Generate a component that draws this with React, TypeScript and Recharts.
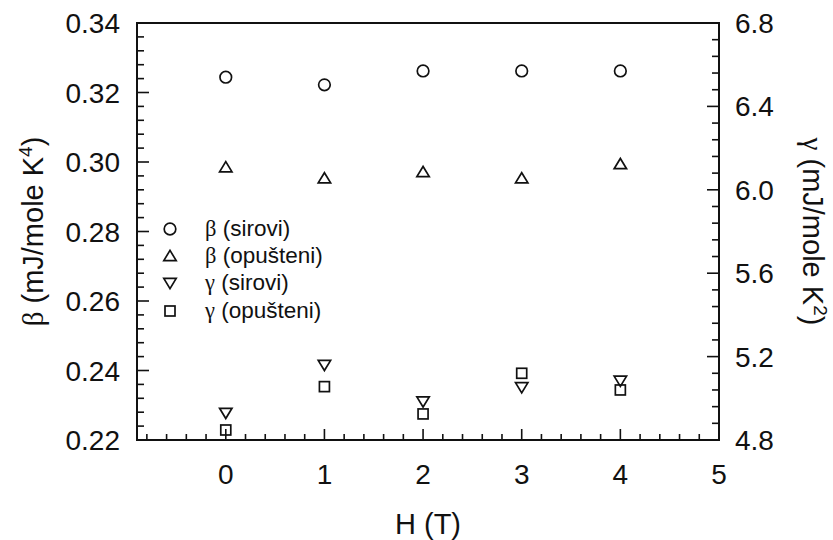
import React from "react";
import { Scatter, ScatterChart, XAxis, YAxis } from "recharts";

// field values (T)
const H = [0, 1, 2, 3, 4];
// beta, left axis (mJ/mole K^4)
const BETA_SIROVI = [0.3244, 0.3222, 0.3262, 0.3262, 0.3262];
const BETA_OPUSTENI = [0.2985, 0.2953, 0.2971, 0.2953, 0.2994];
// gamma, right axis (mJ/mole K^2)
const GAMMA_SIROVI = [4.93, 5.16, 4.985, 5.053, 5.084];
const GAMMA_OPUSTENI = [4.848, 5.056, 4.925, 5.12, 5.04];

const SERIES_LABELS = [
  { greek: "β", text: "(sirovi)", shape: "circle" },
  { greek: "β", text: "(opušteni)", shape: "up" },
  { greek: "γ", text: "(sirovi)", shape: "down" },
  { greek: "γ", text: "(opušteni)", shape: "square" },
];

const SANS = "'Liberation Sans', Arial, sans-serif";
const SERIF = "'Liberation Serif', 'Times New Roman', serif";
const INK = "#111";

// chart layout: plot box sits between these axis sizes
const W = 833;
const HGT = 540;
const TOP = 23;
const LEFT_W = 137;
const RIGHT_W = 114;
const BOTTOM_H = 100;

function range(start: number, end: number, step: number) {
  const out: number[] = [];
  const n = Math.round((end - start) / step);
  for (let i = 0; i <= n; i++) out.push(Math.round((start + i * step) * 10000) / 10000);
  return out;
}

const X_TICKS = range(-0.8, 5, 0.2);
const BETA_TICKS = range(0.22, 0.34, 0.004);
const GAMMA_TICKS = range(4.8, 6.8, 0.08);

const isMult = (v: number, m: number) => Math.abs(v / m - Math.round(v / m)) < 1e-6;

const toPoints = (ys: number[]) => H.map((h, i) => ({ h, v: ys[i] }));

function MarkShape({ cx, cy, kind }: { cx: number; cy: number; kind: string }) {
  const sw = 1.7;
  if (kind === "circle") return <circle cx={cx} cy={cy} r={5.8} fill="none" stroke={INK} strokeWidth={sw} />;
  if (kind === "up")
    return (
      <polygon
        points={`${cx - 6.2},${cy + 4.6} ${cx + 6.2},${cy + 4.6} ${cx},${cy - 5.6}`}
        fill="none"
        stroke={INK}
        strokeWidth={sw}
      />
    );
  if (kind === "down")
    return (
      <polygon
        points={`${cx - 6.2},${cy - 4.6} ${cx + 6.2},${cy - 4.6} ${cx},${cy + 5.6}`}
        fill="none"
        stroke={INK}
        strokeWidth={sw}
      />
    );
  return <rect x={cx - 5} y={cy - 5} width={10} height={10} fill="none" stroke={INK} strokeWidth={sw} />;
}

const shapeOf = (kind: string) => (props: any) => <MarkShape cx={props.cx} cy={props.cy} kind={kind} />;

const tickFont = { fontFamily: SANS, fontSize: 28, fill: INK };

const BottomTick = ({ x, y, payload }: any) => {
  const major = isMult(payload.value, 1);
  return (
    <g>
      <line x1={x} x2={x} y1={y} y2={y - (major ? 11 : 6)} stroke={INK} strokeWidth={1.6} />
      {major && (
        <text x={x} y={y + 44} textAnchor="middle" {...tickFont}>
          {Math.round(payload.value)}
        </text>
      )}
    </g>
  );
};

const TopTick = ({ x, y, payload }: any) => {
  const major = isMult(payload.value, 1);
  return <line x1={x} x2={x} y1={y} y2={y + (major ? 11 : 6)} stroke={INK} strokeWidth={1.6} />;
};

const LeftTick = ({ x, y, payload }: any) => {
  const major = isMult(payload.value, 0.02);
  return (
    <g>
      <line x1={x} x2={x + (major ? 12 : 7)} y1={y} y2={y} stroke={INK} strokeWidth={1.6} />
      {major && (
        <text x={x - 17} y={y} dy="0.36em" textAnchor="end" {...tickFont}>
          {payload.value.toFixed(2)}
        </text>
      )}
    </g>
  );
};

const RightTick = ({ x, y, payload }: any) => {
  const major = isMult(payload.value, 0.4);
  return (
    <g>
      <line x1={x} x2={x - (major ? 12 : 7)} y1={y} y2={y} stroke={INK} strokeWidth={1.6} />
      {major && (
        <text x={x + 16} y={y} dy="0.36em" textAnchor="start" {...tickFont}>
          {payload.value.toFixed(1)}
        </text>
      )}
    </g>
  );
};

const titleFont = { fontFamily: SANS, fontSize: 29, fill: INK };

const LeftTitle = ({ viewBox }: any) => {
  const cx = viewBox.x + 33;
  const cy = viewBox.y + viewBox.height / 2;
  return (
    <text x={cx} y={cy} transform={`rotate(-90 ${cx} ${cy})`} textAnchor="middle" dy="0.36em" {...titleFont}>
      <tspan fontFamily={SERIF}>β</tspan>
      <tspan> (mJ/mole K</tspan>
      <tspan fontSize={19} dy="-11">4</tspan>
      <tspan dy="11">)</tspan>
    </text>
  );
};

const RightTitle = ({ viewBox }: any) => {
  const cx = viewBox.x + 94;
  const cy = viewBox.y + viewBox.height / 2;
  return (
    <text x={cx} y={cy} transform={`rotate(90 ${cx} ${cy})`} textAnchor="middle" dy="0.36em" {...titleFont}>
      <tspan fontFamily={SERIF}>γ</tspan>
      <tspan> (mJ/mole K</tspan>
      <tspan fontSize={19} dy="-11">2</tspan>
      <tspan dy="11">)</tspan>
    </text>
  );
};

const BottomTitle = ({ viewBox }: any) => (
  <text x={viewBox.x + viewBox.width / 2} y={viewBox.y + 94} textAnchor="middle" {...titleFont}>
    H (T)
  </text>
);

const LegendBox = () => (
  <div style={{ position: "absolute", left: 160, top: 215, fontFamily: SANS, fontSize: 22.5, color: INK }}>
    {SERIES_LABELS.map((s) => (
      <div key={s.greek + s.text} style={{ display: "flex", alignItems: "center", height: 27.3 }}>
        <svg width={20} height={20} style={{ marginRight: 25 }}>
          <MarkShape cx={10} cy={10} kind={s.shape} />
        </svg>
        <span>
          <span style={{ fontFamily: SERIF }}>{s.greek}</span> {s.text}
        </span>
      </div>
    ))}
  </div>
);

// box round the plot area, sized from the same layout constants the chart uses
const PlotFrame = () => (
  <div
    style={{
      position: "absolute",
      left: LEFT_W - 1,
      top: TOP - 1,
      width: W - LEFT_W - RIGHT_W + 2,
      height: HGT - TOP - BOTTOM_H + 2,
      boxSizing: "border-box",
      border: `2px solid ${INK}`,
      pointerEvents: "none",
    }}
  />
);

export default function App() {
  return (
    <div style={{ position: "absolute", left: 0, top: 0, width: W, height: HGT, background: "#fff" }}>
      <ScatterChart width={W} height={HGT} margin={{ top: TOP, right: 0, bottom: 0, left: 0 }}>
        <XAxis
          xAxisId="b"
          dataKey="h"
          type="number"
          domain={[-0.9, 5]}
          ticks={X_TICKS}
          interval={0}
          height={BOTTOM_H}
          tickSize={0}
          tickMargin={0}
          tickLine={false}
          axisLine={false}
          tick={<BottomTick />}
          label={<BottomTitle />}
        />
        <XAxis
          xAxisId="t"
          orientation="top"
          dataKey="h"
          type="number"
          domain={[-0.9, 5]}
          ticks={X_TICKS}
          interval={0}
          height={0}
          tickSize={0}
          tickMargin={0}
          tickLine={false}
          axisLine={false}
          tick={<TopTick />}
        />
        <YAxis
          yAxisId="beta"
          dataKey="v"
          type="number"
          domain={[0.22, 0.34]}
          ticks={BETA_TICKS}
          interval={0}
          width={LEFT_W}
          tickSize={0}
          tickMargin={0}
          tickLine={false}
          axisLine={false}
          tick={<LeftTick />}
          label={<LeftTitle />}
        />
        <YAxis
          yAxisId="gamma"
          orientation="right"
          dataKey="v"
          type="number"
          domain={[4.8, 6.8]}
          ticks={GAMMA_TICKS}
          interval={0}
          width={RIGHT_W}
          tickSize={0}
          tickMargin={0}
          tickLine={false}
          axisLine={false}
          tick={<RightTick />}
          label={<RightTitle />}
        />
        <Scatter
          name="β (sirovi)"
          data={toPoints(BETA_SIROVI)}
          xAxisId="b"
          yAxisId="beta"
          shape={shapeOf("circle")}
          isAnimationActive={false}
        />
        <Scatter
          name="β (opušteni)"
          data={toPoints(BETA_OPUSTENI)}
          xAxisId="b"
          yAxisId="beta"
          shape={shapeOf("up")}
          isAnimationActive={false}
        />
        <Scatter
          name="γ (sirovi)"
          data={toPoints(GAMMA_SIROVI)}
          xAxisId="b"
          yAxisId="gamma"
          shape={shapeOf("down")}
          isAnimationActive={false}
        />
        <Scatter
          name="γ (opušteni)"
          data={toPoints(GAMMA_OPUSTENI)}
          xAxisId="b"
          yAxisId="gamma"
          shape={shapeOf("square")}
          isAnimationActive={false}
        />
      </ScatterChart>
      <PlotFrame />
      <LegendBox />
    </div>
  );
}
